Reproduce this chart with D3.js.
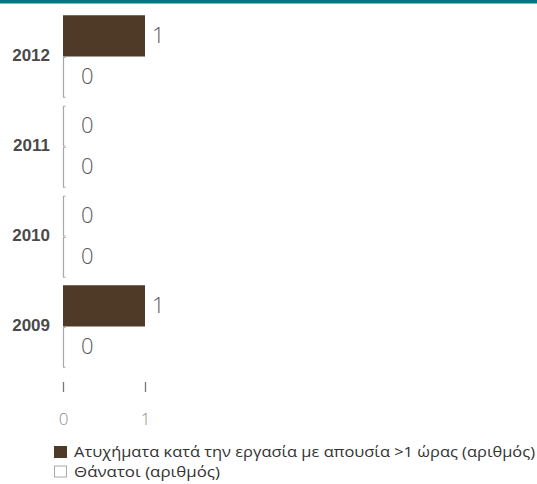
<!DOCTYPE html>
<html><head><meta charset="utf-8">
<script src="https://cdn.jsdelivr.net/npm/d3@7"></script>
<style>body{margin:0;background:#fff;}svg{display:block;}</style>
</head><body>
<svg id="c" width="537" height="484"></svg>
<script>
const categories = ["2012", "2011", "2010", "2009"];
const seriesNames = ["Ατυχήματα κατά την εργασία με απουσία >1 ώρας (αριθμός)", "Θάνατοι (αριθμός)"];
const accidents = [1, 0, 0, 1];
const deaths = [0, 0, 0, 0];
const xTicks = [0, 1];

const svg = d3.select("#c");
const barColor = "#4e3a27";
const lightFont = "'Open Sans', Roboto, sans-serif";

// top band
svg.append("rect").attr("x", 0).attr("y", 0).attr("width", 537).attr("height", 3.5).attr("fill", "#007682");

const x = d3.scaleLinear().domain([0, 1]).range([63, 145]);
const y = d3.scaleBand().domain(categories).range([11.5, 371.5]).paddingInner(0.0833).paddingOuter(0.0417);
const keys = [0, 1];
const yi = d3.scaleBand().domain(keys).range([0, y.bandwidth()]);

const data = categories.map((c, i) => ({cat: c, vals: [accidents[i], deaths[i]]}));

const g = svg.append("g");
data.forEach(d => {
  d.vals.forEach((v, k) => {
    const y0 = y(d.cat) + yi(k);
    const h = yi.bandwidth();
    if (v > 0) {
      g.append("rect").attr("x", x(0)).attr("y", y0).attr("width", x(v) - x(0)).attr("height", h).attr("fill", barColor);
    } else {
      const x0 = x(0);
      g.append("path")
        .attr("d", `M${x0 + 2.5},${y0 + 1}H${x0 + 0.5}V${y0 + h - 0.5}H${x0 + 2.5}`)
        .attr("fill", "none").attr("stroke", "#a8a8a8").attr("stroke-width", 1.2);
    }
    g.append("text")
      .attr("x", v > 0 ? x(v) + 7 : x(v) + 18)
      .attr("y", y0 + h / 2 - 1)
      .attr("dy", "0.35em")
      .attr("font-family", lightFont).attr("font-weight", 300)
      .attr("font-size", 22).attr("fill", "#5a5a5a")
      .text(v);
  });
});

// category labels
svg.append("g").selectAll("text").data(categories).join("text")
  .attr("x", 50).attr("y", d => y(d) + y.bandwidth() / 2 - 1)
  .attr("dy", "0.35em").attr("text-anchor", "end")
  .attr("font-family", "'Liberation Sans', Arial, sans-serif").attr("font-weight", "bold")
  .attr("font-size", 17).attr("fill", "#4a4a4a")
  .text(d => d);

// x axis
const ax = svg.append("g").attr("transform", "translate(0,382)")
  .call(d3.axisBottom(x).tickValues(xTicks).tickSize(10).tickPadding(21).tickFormat(d3.format("d")));
ax.select(".domain").remove();
ax.selectAll(".tick line").attr("stroke", "#777").attr("stroke-width", 1.3);
ax.selectAll(".tick text").attr("font-family", lightFont).attr("font-weight", 300).attr("font-size", 17).attr("fill", "#8a8a8a");

// legend
const leg = svg.append("g");
seriesNames.forEach((n, i) => {
  const ly = 446 + i * 19.5;
  leg.append("rect").attr("x", i === 0 ? 54 : 54.5).attr("y", i === 0 ? ly : ly + 0.5)
    .attr("width", i === 0 ? 13 : 12).attr("height", i === 0 ? 12 : 11)
    .attr("fill", i === 0 ? barColor : "#fff")
    .attr("stroke", i === 0 ? "none" : "#aaa").attr("stroke-width", 1);
  const t = leg.append("text").attr("x", 74).attr("y", ly + 6).attr("dy", "0.35em")
    .attr("font-family", "'Open Sans', sans-serif").attr("font-size", 15).attr("fill", "#333")
    .text(n);
  if (i === 0) t.attr("textLength", 461).attr("lengthAdjust", "spacingAndGlyphs");
  else t.attr("textLength", 146).attr("lengthAdjust", "spacingAndGlyphs");
});
</script>
</body></html>
